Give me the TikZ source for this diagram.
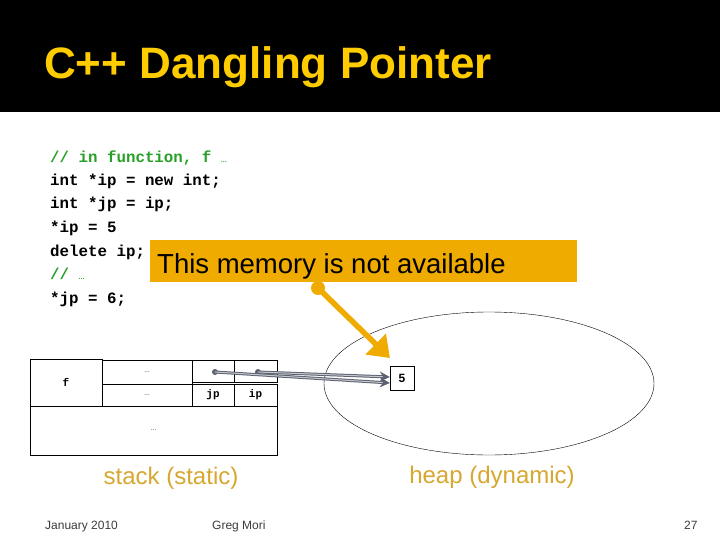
\documentclass[tikz,border=0pt]{standalone}
\usepackage{fontspec}
\setmainfont{Liberation Sans}
\setmonofont{Liberation Mono}
\usetikzlibrary{arrows.meta,positioning}
\definecolor{titlegold}{RGB}{255, 204, 0}
\definecolor{callorange}{RGB}{240, 171, 0}
\definecolor{labelgold}{RGB}{214, 168, 48}
\definecolor{codegreen}{RGB}{40, 160, 40}
\definecolor{ptrgray}{RGB}{92, 98, 114}
\definecolor{footgray}{RGB}{60, 60, 60}

\begin{document}
\begin{tikzpicture}[x=1pt, y=-1pt,
    code/.style={anchor=base west, inner sep=0pt, font=\ttfamily\bfseries\fontsize{15.8}{16}\selectfont},
    cell/.style={draw, thin, inner sep=0pt, font=\ttfamily\bfseries\fontsize{11}{11}\selectfont},
    dots/.style={font=\ttfamily\fontsize{9}{9}\selectfont, text=gray},
    ptr/.style={draw=ptrgray, double=ptrgray!35, double distance=1pt, line width=1pt, -{Stealth[length=10pt, width=10pt]}},
    region/.style={anchor=base, inner sep=0pt, font=\fontsize{24}{24}\selectfont, text=labelgold},
    foot/.style={font=\fontsize{12}{12}\selectfont, text=footgray, anchor=base west, inner sep=0pt}]

\useasboundingbox (0,0) rectangle (720,540);
\fill[white] (0,0) rectangle (720,540);

% Title band
\fill[black] (0,0) rectangle (720,112);
\node[anchor=base west, inner sep=0pt, text=titlegold, font=\bfseries\fontsize{44}{44}\selectfont] (title) at (44,79) {C++ Dangling Pointer};

% Code lines
\node[code, text=codegreen] (c1) at (50,163) {// in function, f {\mdseries\fontsize{10}{10}\selectfont …}};
\node[code] (c2) at (50,186) {int *ip = new int;};
\node[code] (c3) at (50,209) {int *jp = ip;};
\node[code] (c4) at (50,233) {*ip = 5};
\node[code] (c5) at (50,256) {delete ip;};
\node[code, text=codegreen] (c6) at (50,279) {// {\mdseries\fontsize{10}{10}\selectfont …}};
\node[code] (c7) at (50,303) {*jp = 6;};

% Callout
\node[fill=callorange, anchor=north west, minimum width=427pt, minimum height=42pt, inner sep=0pt] (callout) at (150,240) {};
\node[anchor=base west, inner sep=0pt, font=\fontsize{27.5}{28}\selectfont] (calltext) at (157,273) {This memory is not available};

% Stack frame
\node[cell, minimum width=72pt, minimum height=47pt] (fcell) at (66,382.5) {f};
\node[cell, minimum width=90pt, minimum height=24pt, dots] (top1) at (147,372) {…};
\node[cell, minimum width=42pt, minimum height=22pt] (jptop) at (213,371) {};
\node[cell, minimum width=43pt, minimum height=22pt] (iptop) at (255.5,371) {};
\node[cell, minimum width=90pt, minimum height=22pt, dots] (low1) at (147,395) {…};
\node[cell, minimum width=42pt, minimum height=22pt] (jp) at (213,395) {jp};
\node[cell, minimum width=43pt, minimum height=22pt] (ip) at (255.5,395) {ip};
\node[cell, minimum width=247pt, minimum height=49pt, dots] (rest) at (153.5,430.5) {…};
\fill[ptrgray] (215,372) circle (3pt) coordinate (jpdot);
\fill[ptrgray] (258,372) circle (3pt) coordinate (ipdot);

% Heap
\draw[thin] (489,383.5) ellipse [x radius=165pt, y radius=71.5pt];
\node[draw, thin, minimum size=24pt, inner sep=0pt, font=\rmfamily\bfseries\fontsize{12}{12}\selectfont] (five) at (402,378) {5};

% Pointers
\draw[ptr] (jpdot) -- ([yshift=-5pt]five.west);
\draw[ptr] (ipdot) -- ([yshift=1pt]five.west);

% Callout pointer
\coordinate (blob) at (318,288);
\coordinate (tip) at (390,358);
\fill[callorange] (blob) circle (7pt);
\draw[callorange, line width=5.5pt, -{Triangle[length=20pt, width=28pt]}] (blob) -- (tip);

% Region labels
\node[region] (stacklbl) at (171,484) {stack (static)};
\node[region] (heaplbl) at (492,483) {heap (dynamic)};

% Footer
\node[foot] (date) at (45,529) {January 2010};
\node[foot] (author) at (212,529) {Greg Mori};
\node[foot] (page) at (684,529) {27};

\end{tikzpicture}
\end{document}
